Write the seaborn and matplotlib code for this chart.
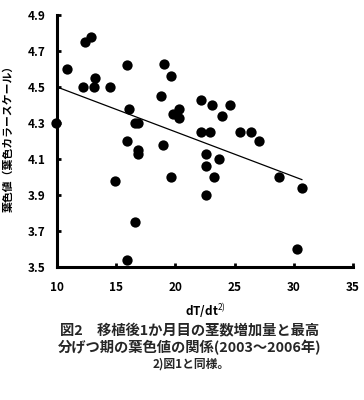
import matplotlib
matplotlib.use("Agg")
import matplotlib.pyplot as plt
import seaborn as sns
import pandas as pd

# data
dTdt = [10.87, 12.39, 12.87, 12.17, 13.1, 13.2, 14.47, 15.88, 16.08, 16.59,
        16.84, 19.04, 19.6, 18.75, 20.33, 19.8, 20.33, 22.19, 23.06, 23.94,
        24.64, 9.88, 15.88, 22.19, 22.92, 25.42, 26.38, 27.09, 16.87, 16.87,
        18.92, 22.55, 23.65, 22.55, 14.9, 19.6, 23.26, 28.78, 30.66, 22.61,
        16.59, 15.88, 30.3]
leaf_color = [4.60, 4.75, 4.78, 4.50, 4.50, 4.55, 4.50, 4.62, 4.38, 4.30,
              4.30, 4.63, 4.56, 4.45, 4.38, 4.35, 4.33, 4.43, 4.40, 4.34,
              4.40, 4.30, 4.20, 4.25, 4.25, 4.25, 4.25, 4.20, 4.15, 4.13,
              4.18, 4.13, 4.10, 4.06, 3.98, 4.00, 4.00, 4.00, 3.94, 3.90,
              3.75, 3.54, 3.60]
trend_x = [10.0, 30.7]
trend_y = [4.50, 3.985]
x_ticks = [10, 15, 20, 25, 30, 35]
y_ticks = [3.5, 3.7, 3.9, 4.1, 4.3, 4.5, 4.7, 4.9]

sns.set_theme(style="ticks")
plt.rcParams['font.family'] = ['Noto Sans CJK JP', 'DejaVu Sans']
plt.rcParams['mathtext.fontset'] = 'custom'
plt.rcParams['mathtext.rm'] = 'Noto Sans CJK JP'

df = pd.DataFrame({"x": dTdt, "y": leaf_color})
fig = plt.figure(figsize=(3.64, 4.0), dpi=100)
ax = fig.add_axes([57/364, 133/400, 296/364, 252/400])

sns.scatterplot(data=df, x="x", y="y", ax=ax, color="black", s=55,
                edgecolor="black", linewidth=0, clip_on=False, zorder=3)
sns.lineplot(x=trend_x, y=trend_y, ax=ax, color="black", linewidth=0.9)

ax.set_xlim(10, 35)
ax.set_ylim(3.5, 4.9)
ax.set_xticks(x_ticks)
ax.set_yticks(y_ticks)
ax.set_xticklabels([str(t) for t in x_ticks])
ax.set_yticklabels([f"{t:.1f}" for t in y_ticks])
for s in ["top", "right"]:
    ax.spines[s].set_visible(False)
for s in ["left", "bottom"]:
    ax.spines[s].set_linewidth(2.2)
    ax.spines[s].set_color("black")
ax.tick_params(axis="both", direction="in", length=3, width=2, colors="black",
               labelsize=8.5)
ax.tick_params(axis="y", pad=8)
ax.tick_params(axis="x", pad=10)
for lab in ax.get_xticklabels() + ax.get_yticklabels():
    lab.set_fontweight("bold")

ax.set_xlabel(r"dT/dt$^{2)}$", fontsize=8.5, fontweight="bold", color="black")
ax.xaxis.set_label_coords(0.5, -0.135)
ax.set_ylabel("葉色値（葉色カラースケール）", fontsize=7.8, fontweight="bold",
              color="black")
ax.yaxis.set_label_coords(-0.145, 0.52)

fig.text(0.522, 0.1725, "図2　移植後1か月目の茎数増加量と最高", ha="center",
         va="center", fontsize=10.3, fontweight="bold")
fig.text(0.52, 0.13, "分げつ期の葉色値の関係(2003～2006年)", ha="center",
         va="center", fontsize=10.3, fontweight="bold")
fig.text(0.525, 0.09, "2)図1と同様。", ha="center", va="center",
         fontsize=8.5, fontweight="bold")

fig.savefig("out.png", dpi=100, facecolor="white")
